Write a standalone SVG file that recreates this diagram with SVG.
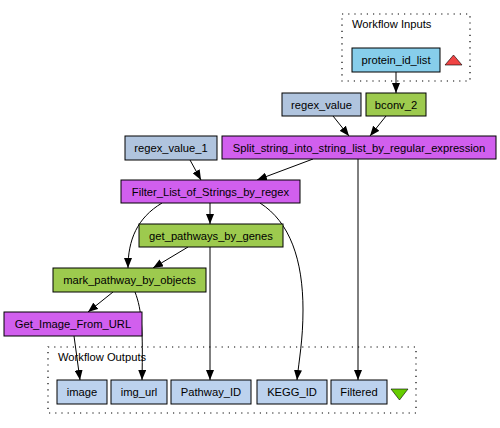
<svg xmlns="http://www.w3.org/2000/svg" width="500" height="428" viewBox="0 0 500 428">
<style>
text{font-family:"Liberation Sans",Arial,sans-serif;font-size:11.2px;fill:#000;text-anchor:middle}
.lbl{text-anchor:start}
.n{stroke:#000;stroke-width:1}
.in{fill:#87ceeb}
.cst{fill:#b0c4de}
.grn{fill:#9dca4e}
.mag{fill:#d15fee}
.out{fill:#bcd2ee}
.cl{fill:none;stroke:#000;stroke-width:1.2;stroke-dasharray:1.2,5}
.e{fill:none;stroke:#000;stroke-width:1;marker-end:url(#arr)}
</style>
<defs>
<marker id="arr" markerUnits="userSpaceOnUse" markerWidth="10" markerHeight="8" refX="10" refY="4" orient="auto">
<path d="M0,0 L10,4 L0,8 z" fill="#000"/>
</marker>
</defs>
<rect width="500" height="428" fill="#fff"/>
<g id="cluster_inputs">
<rect class="cl" x="342" y="14" width="128" height="67"/>
<text class="lbl" x="352" y="28">Workflow Inputs</text>
</g>
<g id="cluster_outputs">
<rect class="cl" x="48" y="347" width="368" height="66"/>
<text class="lbl" x="58" y="361">Workflow Outputs</text>
</g>
<g id="connectors">
<path class="e" d="M396,72 L396,93"/>
<path class="e" d="M333,116 L349,136"/>
<path class="e" d="M386,116 L370,136"/>
<path class="e" d="M313,159 L257,180"/>
<path class="e" d="M190,160 L201,180"/>
<path class="e" d="M358,159 L358,380"/>
<path class="e" d="M210,203 L210,224"/>
<path class="e" d="M162,203 C137,218 128,240 128,268"/>
<path class="e" d="M188,247 L153,268"/>
<path class="e" d="M260,203 C290,222 303,260 303,310 C303,340 299,360 297,380"/>
<path class="e" d="M210,247 L210,380"/>
<path class="e" d="M113,292 L88,312"/>
<path class="e" d="M135,292 C142,310 143,330 142,380"/>
<path class="e" d="M74,336 L80,380"/>
</g>
<g id="protein_id_list"><rect class="n in" x="352" y="48" width="88" height="24"/><text x="396" y="64">protein_id_list</text></g>
<g id="inputs_marker"><polygon points="445,65 462,65 453.5,55" fill="#f04444" stroke="#000" stroke-width="0.6"/></g>
<g id="regex_value"><rect class="n cst" x="282" y="93" width="79" height="23"/><text x="321.5" y="108.5">regex_value</text></g>
<g id="bconv_2"><rect class="n grn" x="366" y="93" width="60" height="23"/><text x="396" y="108.5">bconv_2</text></g>
<g id="regex_value_1"><rect class="n cst" x="125" y="136" width="92" height="24"/><text x="171" y="152">regex_value_1</text></g>
<g id="Split_string_into_string_list_by_regular_expression"><rect class="n mag" x="222" y="136" width="274" height="23"/><text x="359" y="151.5">Split_string_into_string_list_by_regular_expression</text></g>
<g id="Filter_List_of_Strings_by_regex"><rect class="n mag" x="121" y="180" width="179" height="23"/><text x="210.5" y="195.5">Filter_List_of_Strings_by_regex</text></g>
<g id="get_pathways_by_genes"><rect class="n grn" x="139" y="224" width="144" height="23"/><text x="211" y="239.5">get_pathways_by_genes</text></g>
<g id="mark_pathway_by_objects"><rect class="n grn" x="53" y="268" width="153" height="24"/><text x="129.5" y="284">mark_pathway_by_objects</text></g>
<g id="Get_Image_From_URL"><rect class="n mag" x="4" y="312" width="138" height="24"/><text x="73" y="328">Get_Image_From_URL</text></g>
<g id="image"><rect class="n out" x="57" y="380" width="50" height="24"/><text x="82" y="396">image</text></g>
<g id="img_url"><rect class="n out" x="111" y="380" width="56" height="24"/><text x="139" y="396">img_url</text></g>
<g id="Pathway_ID"><rect class="n out" x="171" y="380" width="80" height="24"/><text x="211" y="396">Pathway_ID</text></g>
<g id="KEGG_ID"><rect class="n out" x="257" y="380" width="70" height="24"/><text x="292" y="396">KEGG_ID</text></g>
<g id="Filtered"><rect class="n out" x="331" y="380" width="56" height="24"/><text x="359" y="396">Filtered</text></g>
<g id="outputs_marker"><polygon points="391,389 408,389 399.5,400" fill="#66cd00" stroke="#000" stroke-width="0.6"/></g>
</svg>
